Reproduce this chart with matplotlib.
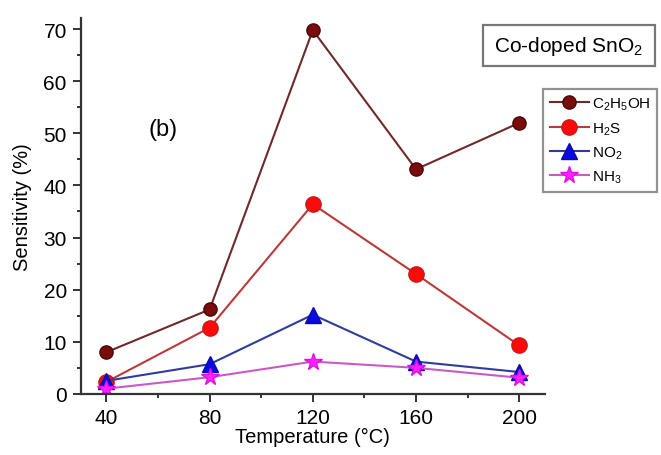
import matplotlib
matplotlib.use("Agg")
import matplotlib.pyplot as plt
from matplotlib.patches import Rectangle

plt.rcParams['font.family'] = ['Liberation Sans', 'DejaVu Sans']
plt.rcParams['mathtext.fontset'] = 'custom'
plt.rcParams['mathtext.rm'] = 'Liberation Sans'

# data
temps = [40, 80, 120, 160, 200]
c2h5oh = [8.0, 16.2, 69.8, 43.1, 52.0]
h2s = [2.3, 12.7, 36.4, 23.0, 9.3]
no2 = [2.5, 5.7, 15.2, 6.2, 4.2]
nh3 = [1.0, 3.2, 6.2, 5.0, 3.1]

series = [
    (c2h5oh, r'C$_2$H$_5$OH', '#6e2a2a', 'o', '#7a0c0c', '#4a0505', 9.5),
    (h2s, r'H$_2$S', '#b83a3a', 'o', '#ff0a0a', '#c81818', 11),
    (no2, r'NO$_2$', '#303c9a', '^', '#0a0ae0', '#0a0ab0', 11),
    (nh3, r'NH$_3$', '#c85ac8', '*', '#ff22ff', '#e010e0', 13),
]

fig = plt.figure(figsize=(6.61, 4.56), dpi=100)
ax = fig.add_axes([0.122, 0.134, 0.7025, 0.824])

for vals, lab, lc, mk, fc, ec, ms in series:
    ax.plot(temps, vals, color=lc, lw=1.5, marker=mk, ms=ms,
            markerfacecolor=fc, markeredgecolor=ec, markeredgewidth=1.0,
            label=lab)

ax.set_xlim(30, 210)
ax.set_ylim(0, 72.1)
ax.set_xticks(temps)
ax.set_xticks([60, 100, 140, 180], minor=True)
ax.set_yticks(range(0, 71, 10))
ax.set_yticks(range(5, 70, 10), minor=True)

for s in ['top', 'right']:
    ax.spines[s].set_visible(False)
for s in ['left', 'bottom']:
    ax.spines[s].set_linewidth(1.6)
    ax.spines[s].set_color('#333333')

ax.tick_params(which='major', length=6, width=1.4, color='#333333',
               labelsize=15, pad=4)
ax.tick_params(which='minor', length=3, width=1.4, color='#333333')

ax.set_xlabel('Temperature (°C)', fontsize=14.5, labelpad=0)
ax.set_ylabel('Sensitivity (%)', fontsize=14.5, labelpad=8)

ax.text(0.177, 0.705, '(b)', transform=ax.transAxes, fontsize=17,
        ha='center', va='center')

leg = fig.legend(loc='upper left', bbox_to_anchor=(0.821, 0.803),
                 fontsize=11, frameon=True, fancybox=False,
                 handlelength=2.6, handletextpad=0.15, borderpad=0.45,
                 labelspacing=0.5, borderaxespad=0)
leg.get_frame().set_edgecolor('#777777')
leg.get_frame().set_linewidth(1.6)

# title box
fig.patches.append(Rectangle((0.730, 0.854), 0.261, 0.088,
                             transform=fig.transFigure, fill=False,
                             edgecolor='#777777', lw=1.6))
fig.text(0.8605, 0.898, r'Co-doped SnO$_2$', fontsize=15,
         ha='center', va='center')

fig.savefig('out.png', dpi=100, facecolor='white')
